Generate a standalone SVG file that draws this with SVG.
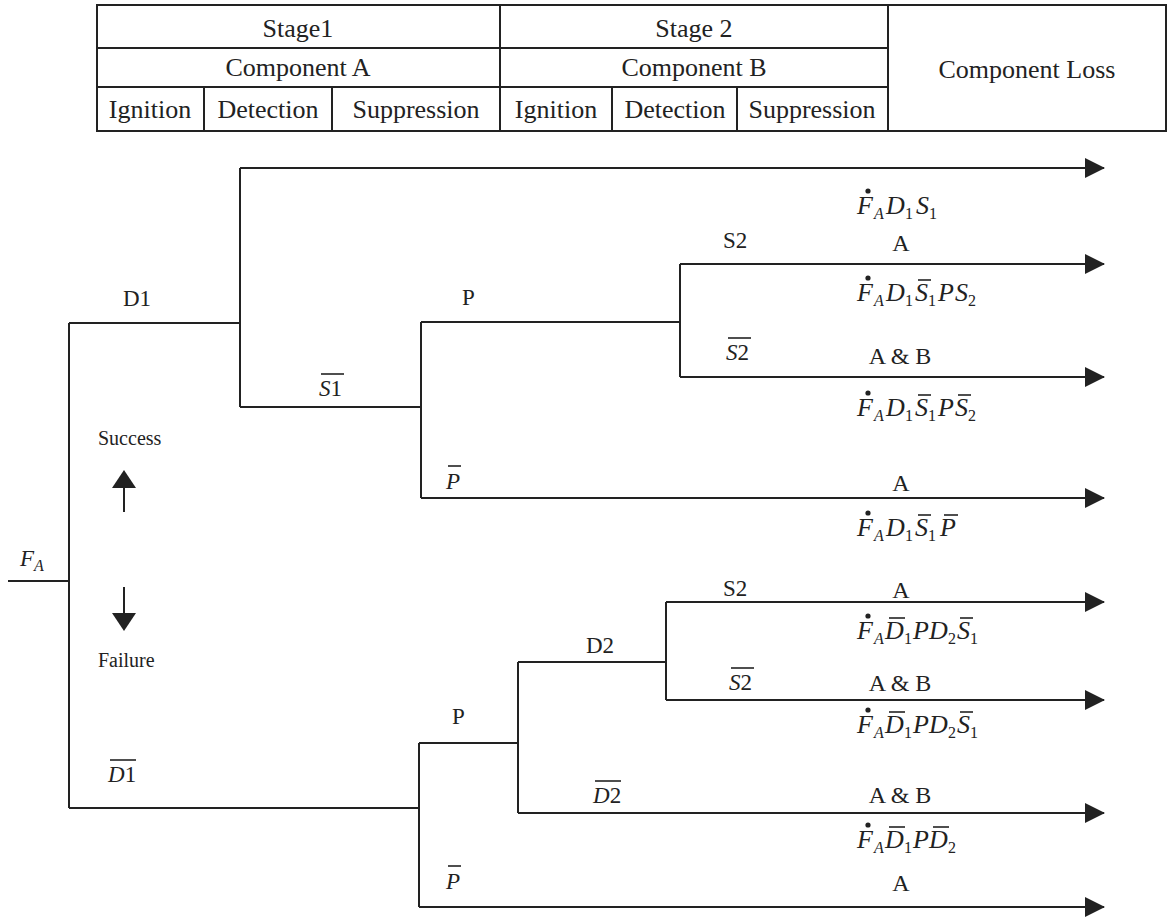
<svg xmlns="http://www.w3.org/2000/svg" width="1168" height="923" viewBox="0 0 1168 923">
  <style>
    .ln { stroke: #222; stroke-width: 2; fill: none; }
    .tb { stroke: #222; stroke-width: 2; fill: none; }
    .t { font-family: "Liberation Serif", "Times New Roman", serif; font-size: 26px; fill: #222; }
    .lbl { font-family: "Liberation Serif", "Times New Roman", serif; font-size: 23px; fill: #222; }
    .loss { font-family: "Liberation Serif", "Times New Roman", serif; font-size: 24px; fill: #222; }
    .sm { font-family: "Liberation Serif", "Times New Roman", serif; font-size: 20px; fill: #222; }
    .f { font-family: "Liberation Serif", "Times New Roman", serif; font-size: 26px; font-style: italic; fill: #222; }
    .i { font-style: italic; }
    .sub { font-size: 16px; }
    .n { font-style: normal; }
    .ov { stroke: #222; stroke-width: 1.6; }
    .dot { fill: #222; }
  </style>
  <defs>
    <marker id="arr" viewBox="0 0 20 20" refX="19" refY="10" markerWidth="20" markerHeight="20" markerUnits="userSpaceOnUse" orient="auto">
      <path d="M0,0 L20,10 L0,20 Z" fill="#222"/>
    </marker>
  </defs>

  <!-- header table -->
  <g id="table">
    <rect class="tb" x="97" y="5" width="1069" height="126"/>
    <line class="tb" x1="97" y1="48" x2="888" y2="48"/>
    <line class="tb" x1="97" y1="87" x2="888" y2="87"/>
    <line class="tb" x1="500" y1="5" x2="500" y2="131"/>
    <line class="tb" x1="888" y1="5" x2="888" y2="131"/>
    <line class="tb" x1="204" y1="87" x2="204" y2="131"/>
    <line class="tb" x1="332" y1="87" x2="332" y2="131"/>
    <line class="tb" x1="612" y1="87" x2="612" y2="131"/>
    <line class="tb" x1="737" y1="87" x2="737" y2="131"/>
    <g class="t" text-anchor="middle">
      <text x="298" y="37">Stage1</text>
      <text x="298" y="76">Component A</text>
      <text x="150" y="118">Ignition</text>
      <text x="268" y="118">Detection</text>
      <text x="416" y="118">Suppression</text>
      <text x="694" y="37">Stage 2</text>
      <text x="694" y="76">Component B</text>
      <text x="556" y="118">Ignition</text>
      <text x="675" y="118">Detection</text>
      <text x="812" y="118">Suppression</text>
      <text x="1027" y="78">Component Loss</text>
    </g>
  </g>

  <!-- event tree branches -->
  <g id="connectors">
    <line class="ln" x1="8" y1="581" x2="69" y2="581"/>
    <line class="ln" x1="69" y1="323" x2="69" y2="808"/>
    <line class="ln" x1="69" y1="323" x2="240" y2="323"/>
    <line class="ln" x1="240" y1="168" x2="240" y2="407"/>
    <line class="ln" x1="240" y1="168" x2="1104" y2="168" marker-end="url(#arr)"/>
    <line class="ln" x1="240" y1="407" x2="421" y2="407"/>
    <line class="ln" x1="421" y1="322" x2="421" y2="498"/>
    <line class="ln" x1="421" y1="322" x2="680" y2="322"/>
    <line class="ln" x1="680" y1="264" x2="680" y2="377"/>
    <line class="ln" x1="680" y1="264" x2="1104" y2="264" marker-end="url(#arr)"/>
    <line class="ln" x1="680" y1="377" x2="1104" y2="377" marker-end="url(#arr)"/>
    <line class="ln" x1="421" y1="498" x2="1104" y2="498" marker-end="url(#arr)"/>
    <line class="ln" x1="69" y1="808" x2="419" y2="808"/>
    <line class="ln" x1="419" y1="743" x2="419" y2="907"/>
    <line class="ln" x1="419" y1="743" x2="518" y2="743"/>
    <line class="ln" x1="518" y1="662" x2="518" y2="813"/>
    <line class="ln" x1="518" y1="662" x2="666" y2="662"/>
    <line class="ln" x1="666" y1="602" x2="666" y2="700"/>
    <line class="ln" x1="666" y1="602" x2="1104" y2="602" marker-end="url(#arr)"/>
    <line class="ln" x1="666" y1="700" x2="1104" y2="700" marker-end="url(#arr)"/>
    <line class="ln" x1="518" y1="813" x2="1104" y2="813" marker-end="url(#arr)"/>
    <line class="ln" x1="419" y1="907" x2="1104" y2="907" marker-end="url(#arr)"/>
  </g>

  <!-- initiating event -->
  <g id="root">
    <text class="lbl i" x="20" y="566">F<tspan class="sub" dy="5">A</tspan></text>
  </g>

  <!-- success / failure legend -->
  <g id="legend">
    <text class="sm" x="98" y="445">Success</text>
    <line class="ln" x1="124" y1="512" x2="124" y2="486"/>
    <path d="M124,470 L112,488 L136,488 Z" fill="#222"/>
    <line class="ln" x1="124" y1="587" x2="124" y2="614"/>
    <path d="M112,613 L136,613 L124,631 Z" fill="#222"/>
    <text class="sm" x="98" y="667">Failure</text>
  </g>

  <!-- branch labels -->
  <g id="labels" class="lbl">
    <text x="123" y="306">D1</text>
    <text x="319" y="396"><tspan class="i">S</tspan>1</text>
    <line class="ov" x1="321" y1="374" x2="344" y2="374"/>
    <text x="462" y="305">P</text>
    <text x="723" y="248">S2</text>
    <text x="726" y="360"><tspan class="i">S</tspan>2</text>
    <line class="ov" x1="728" y1="338" x2="751" y2="338"/>
    <text x="446" y="489" class="i">P</text>
    <line class="ov" x1="448" y1="466" x2="461" y2="466"/>
    <text x="723" y="596">S2</text>
    <text x="586" y="653">D2</text>
    <text x="729" y="690"><tspan class="i">S</tspan>2</text>
    <line class="ov" x1="731" y1="668" x2="754" y2="668"/>
    <text x="452" y="724">P</text>
    <text x="108" y="782"><tspan class="i">D</tspan>1</text>
    <line class="ov" x1="110" y1="760" x2="136" y2="760"/>
    <text x="593" y="803"><tspan class="i">D</tspan>2</text>
    <line class="ov" x1="595" y1="781" x2="621" y2="781"/>
    <text x="446" y="889" class="i">P</text>
    <line class="ov" x1="448" y1="866" x2="461" y2="866"/>
  </g>

  <!-- component loss labels -->
  <g id="losses" class="loss" text-anchor="middle">
    <text x="901" y="251">A</text>
    <text x="900" y="364">A &amp; B</text>
    <text x="901" y="491">A</text>
    <text x="901" y="598">A</text>
    <text x="900" y="691">A &amp; B</text>
    <text x="900" y="803">A &amp; B</text>
    <text x="901" y="891">A</text>
  </g>

  <!-- sequence expressions -->
  <g id="seq1">
    <circle class="dot" cx="868" cy="191" r="2.6"/>
    <text class="f" y="214"><tspan x="857">F</tspan><tspan class="sub" x="874" dy="5">A</tspan><tspan x="886" dy="-5">D</tspan><tspan class="sub n" x="905" dy="5">1</tspan><tspan x="916" dy="-5">S</tspan><tspan class="sub n" x="929" dy="5">1</tspan></text>
  </g>
  <g id="seq2">
    <circle class="dot" cx="868" cy="278" r="2.6"/>
    <text class="f" y="301"><tspan x="857">F</tspan><tspan class="sub" x="874" dy="5">A</tspan><tspan x="886" dy="-5">D</tspan><tspan class="sub n" x="905" dy="5">1</tspan><tspan x="915" dy="-5">S</tspan><tspan class="sub n" x="928" dy="5">1</tspan><tspan x="938" dy="-5">P</tspan><tspan x="955">S</tspan><tspan class="sub n" x="968" dy="5">2</tspan></text>
    <line class="ov" x1="918" y1="280" x2="931" y2="280"/>
  </g>
  <g id="seq3">
    <circle class="dot" cx="868" cy="393" r="2.6"/>
    <text class="f" y="416"><tspan x="857">F</tspan><tspan class="sub" x="874" dy="5">A</tspan><tspan x="886" dy="-5">D</tspan><tspan class="sub n" x="905" dy="5">1</tspan><tspan x="915" dy="-5">S</tspan><tspan class="sub n" x="928" dy="5">1</tspan><tspan x="938" dy="-5">P</tspan><tspan x="955">S</tspan><tspan class="sub n" x="968" dy="5">2</tspan></text>
    <line class="ov" x1="918" y1="395" x2="931" y2="395"/>
    <line class="ov" x1="958" y1="395" x2="971" y2="395"/>
  </g>
  <g id="seq4">
    <circle class="dot" cx="868" cy="513" r="2.6"/>
    <text class="f" y="536"><tspan x="857">F</tspan><tspan class="sub" x="874" dy="5">A</tspan><tspan x="886" dy="-5">D</tspan><tspan class="sub n" x="905" dy="5">1</tspan><tspan x="915" dy="-5">S</tspan><tspan class="sub n" x="928" dy="5">1</tspan><tspan x="940" dy="-5">P</tspan></text>
    <line class="ov" x1="918" y1="515" x2="931" y2="515"/>
    <line class="ov" x1="944" y1="515" x2="958" y2="515"/>
  </g>
  <g id="seq5">
    <circle class="dot" cx="868" cy="616" r="2.6"/>
    <text class="f" y="639"><tspan x="857">F</tspan><tspan class="sub" x="874" dy="5">A</tspan><tspan x="885" dy="-5">D</tspan><tspan class="sub n" x="904" dy="5">1</tspan><tspan x="913" dy="-5">P</tspan><tspan x="929">D</tspan><tspan class="sub n" x="948" dy="5">2</tspan><tspan x="957" dy="-5">S</tspan><tspan class="sub n" x="970" dy="5">1</tspan></text>
    <line class="ov" x1="889" y1="618" x2="905" y2="618"/>
    <line class="ov" x1="960" y1="618" x2="973" y2="618"/>
  </g>
  <g id="seq6">
    <circle class="dot" cx="868" cy="710" r="2.6"/>
    <text class="f" y="733"><tspan x="857">F</tspan><tspan class="sub" x="874" dy="5">A</tspan><tspan x="885" dy="-5">D</tspan><tspan class="sub n" x="904" dy="5">1</tspan><tspan x="913" dy="-5">P</tspan><tspan x="929">D</tspan><tspan class="sub n" x="948" dy="5">2</tspan><tspan x="957" dy="-5">S</tspan><tspan class="sub n" x="970" dy="5">1</tspan></text>
    <line class="ov" x1="889" y1="712" x2="905" y2="712"/>
    <line class="ov" x1="960" y1="712" x2="973" y2="712"/>
  </g>
  <g id="seq7">
    <circle class="dot" cx="868" cy="825" r="2.6"/>
    <text class="f" y="848"><tspan x="857">F</tspan><tspan class="sub" x="874" dy="5">A</tspan><tspan x="885" dy="-5">D</tspan><tspan class="sub n" x="904" dy="5">1</tspan><tspan x="913" dy="-5">P</tspan><tspan x="929">D</tspan><tspan class="sub n" x="948" dy="5">2</tspan></text>
    <line class="ov" x1="889" y1="827" x2="905" y2="827"/>
    <line class="ov" x1="933" y1="827" x2="949" y2="827"/>
  </g>
</svg>
